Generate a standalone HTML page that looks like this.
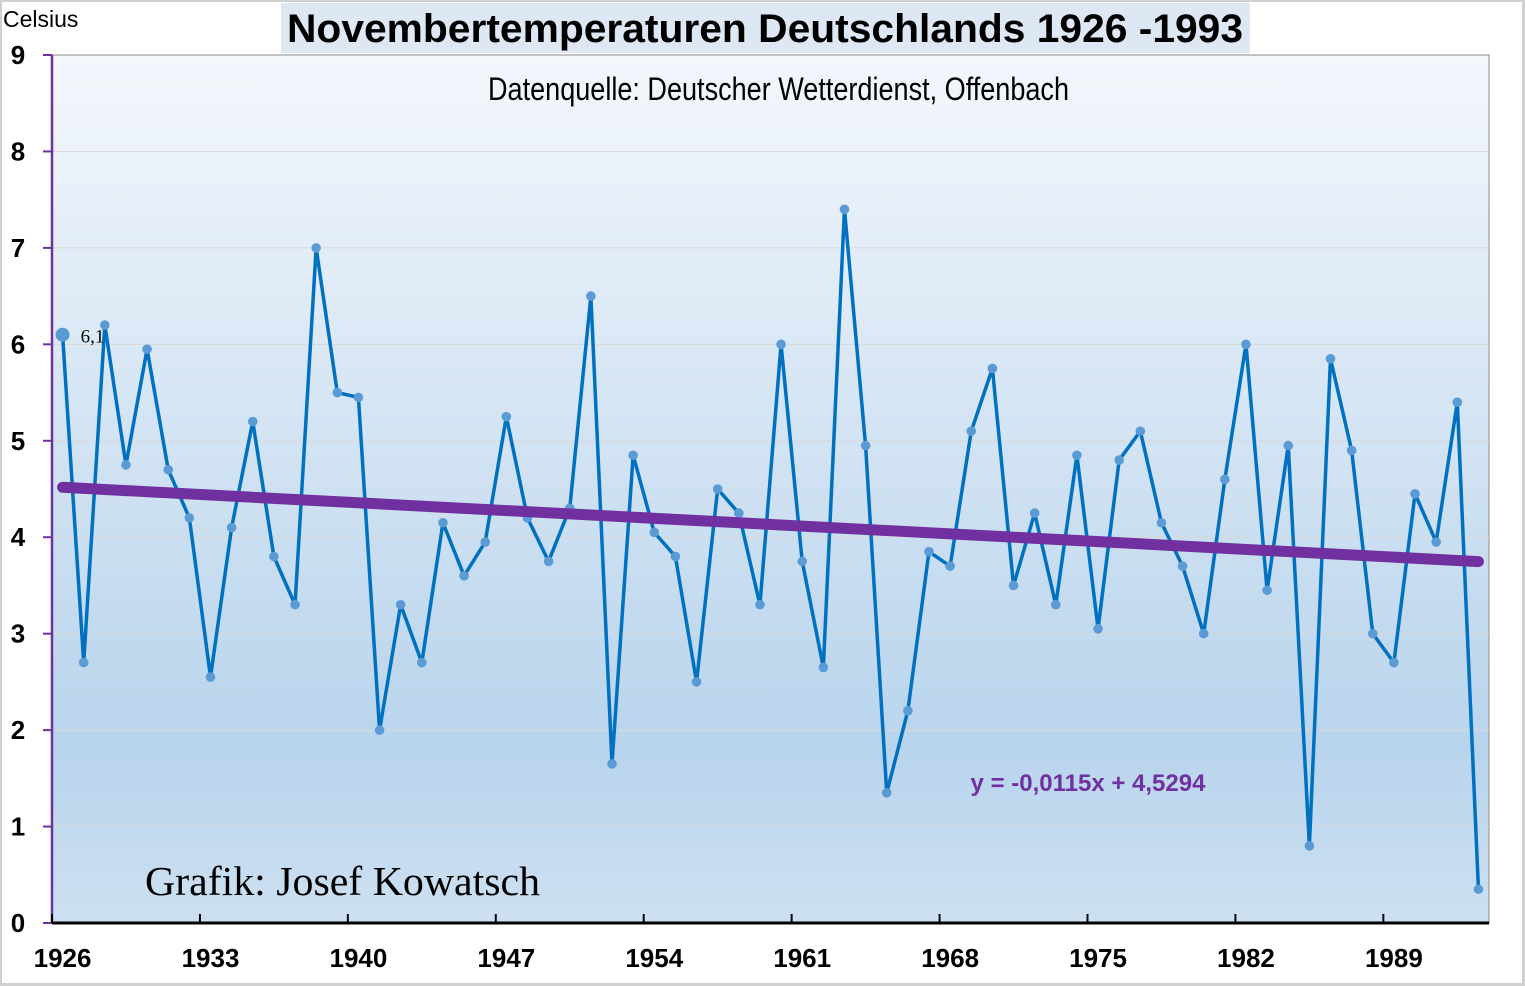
<!DOCTYPE html>
<html><head><meta charset="utf-8"><style>
html,body{margin:0;padding:0;background:#fff}
svg{display:block}
</style></head><body>
<svg id="chart" width="1525" height="986" viewBox="0 0 1525 986" style="font-family:'Liberation Sans',sans-serif">
<defs>
<linearGradient id="bg" x1="0" y1="0" x2="0" y2="1">
<stop offset="0" stop-color="#f4f7fc"/>
<stop offset="0.45" stop-color="#d2e3f3"/>
<stop offset="0.8" stop-color="#b8d4ec"/>
<stop offset="1" stop-color="#cde0f2"/>
</linearGradient>
</defs>
<rect x="0.5" y="0.5" width="1523" height="984" fill="#fff" stroke="#d0d0d0" stroke-width="3"/>
<rect x="52" y="55" width="1437" height="868" fill="url(#bg)" stroke="#8a8a8a" stroke-width="1"/>
<g id="grid"></g>
<rect x="281" y="3" width="969" height="50" fill="#dde8f4"/>
<text x="765" y="42" font-size="40" font-weight="bold" text-anchor="middle" textLength="956" lengthAdjust="spacingAndGlyphs">Novembertemperaturen Deutschlands 1926 -1993</text>
<text x="488" y="100" font-size="32" textLength="581" lengthAdjust="spacingAndGlyphs" style="font-family:'Liberation Sans Narrow','Liberation Sans',sans-serif">Datenquelle: Deutscher Wetterdienst, Offenbach</text>
<text x="3" y="27" font-size="23">Celsius</text>
<g id="axes"></g>
<g id="series"></g>
<text x="1088" y="791" font-size="24" font-weight="bold" fill="#7030a0" text-anchor="middle">y = -0,0115x + 4,5294</text>
<text x="145" y="895" font-size="41" style="font-family:'Liberation Serif',serif" textLength="395" lengthAdjust="spacingAndGlyphs">Grafik: Josef Kowatsch</text>
</svg>
<script>
const years=[];for(let y=1926;y<=1993;y++)years.push(y);
const temps=[6.1,2.7,6.2,4.75,5.95,4.7,4.2,2.55,4.1,5.2,3.8,3.3,7.0,5.5,5.45,2.0,3.3,2.7,4.15,3.6,3.95,5.25,4.2,3.75,4.3,6.5,1.65,4.85,4.05,3.8,2.5,4.5,4.25,3.3,6.0,3.75,2.65,7.4,4.95,1.35,2.2,3.85,3.7,5.1,5.75,3.5,4.25,3.3,4.85,3.05,4.8,5.1,4.15,3.7,3.0,4.6,6.0,3.45,4.95,0.8,5.85,4.9,3.0,2.7,4.45,3.95,5.4,0.35];
const yTicks=[0,1,2,3,4,5,6,7,8,9];
const xLabels=["1926","1933","1940","1947","1954","1961","1968","1975","1982","1989"];
const trendSlope=-0.0115, trendIntercept=4.5294;
const X0=52,X1=1489,Y0=923,Y9=55;
const step=(X1-X0)/years.length;
const xs=i=>X0+step*(i+0.5);
const ys=v=>Y0-(v/9)*(Y0-Y9);
const NS="http://www.w3.org/2000/svg";
function mk(tag,attrs,parent){const e=document.createElementNS(NS,tag);for(const k in attrs)e.setAttribute(k,attrs[k]);parent.appendChild(e);return e;}
const grid=document.getElementById('grid'),axes=document.getElementById('axes'),ser=document.getElementById('series');
yTicks.forEach(t=>{
 if(t>0&&t<9){const g=mk('line',{x1:X0,x2:X1,y1:ys(t),y2:ys(t),stroke:'#d9d9d9','stroke-width':1},grid);
 
 }
 const tk=mk('line',{x1:X0-9,x2:X0,y1:ys(t),y2:ys(t),stroke:'#7030a0','stroke-width':2},axes);
 
 
 const lb=mk('text',{x:18,y:ys(t)+9,'font-size':26,'font-weight':'bold','text-anchor':'middle'},axes);lb.textContent=t;
 
 
});
const ya=mk('line',{x1:X0,x2:X0,y1:Y9,y2:Y0,stroke:'#7030a0','stroke-width':2.5},axes);


const xa=mk('line',{x1:X0,x2:X1,y1:Y0,y2:Y0,stroke:'#000','stroke-width':3},axes);


xLabels.forEach((l,k)=>{
 const i=years.indexOf(+l);
 const tx=X0+step*i;
 const tk=mk('line',{x1:tx,x2:tx,y1:Y0-9,y2:Y0,stroke:'#000','stroke-width':2},axes);
 
 
 const lb=mk('text',{x:xs(i),y:967,'font-size':26,'font-weight':'bold','text-anchor':'middle'},axes);lb.textContent=l;
 
 
});
const line=mk('polyline',{points:temps.map((v,i)=>xs(i)+','+ys(v)).join(' '),fill:'none',stroke:'#0070c0','stroke-width':3.5,'stroke-linejoin':'round'},ser);


temps.forEach((v,i)=>{
 const c=mk('circle',{cx:xs(i),cy:ys(v),r:i===0?7:4.8,fill:'#5b9bd5'},ser);
 
 
});
const n=temps.length;
const tr=mk('line',{x1:xs(0),y1:ys(trendIntercept+trendSlope*1),x2:xs(n-1),y2:ys(trendIntercept+trendSlope*n),stroke:'#7030a0','stroke-width':11,'stroke-linecap':'round'},ser);


const dl=mk('text',{x:xs(0)+18,y:ys(temps[0])+8,'font-size':19,style:"font-family:'Liberation Serif',serif"},ser);
dl.textContent=String(temps[0]).replace('.',',');


</script>
</body></html>
